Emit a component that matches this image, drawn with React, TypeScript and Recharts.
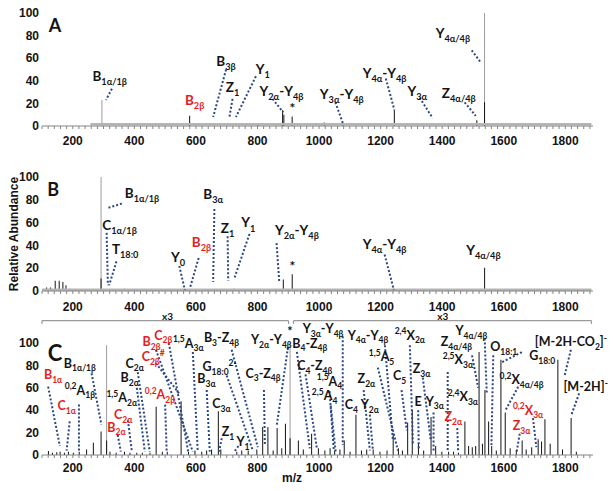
import React from 'react';
import {
  Bar,
  Cell,
  ComposedChart,
  ReferenceDot,
  ReferenceLine,
  XAxis,
  YAxis,
} from 'recharts';

// m/z axis
const MZ_DOMAIN: [number, number] = [100, 1890];
const MAJOR_TICKS = [200, 400, 600, 800, 1000, 1200, 1400, 1600, 1800];
const MINOR_TICKS: number[] = [];
for (let t = 100; t <= 1880; t += 20) MINOR_TICKS.push(t);
const Y_TICKS = [0, 20, 40, 60, 80, 100];

// peaks as [m/z, relative abundance]; "grey" = tall profile traces, "black" = centroid sticks
const A_GREY = [[295, 23], [1538, 100]];
const A_BLACK = [
  [580, 9], [802, 2], [882, 14], [886, 10], [913, 8.5], [1017, 3], [1078, 2],
  [1245, 14], [1513, 5], [1538, 21],
];
const A_NOISE: [number, number, number] = [257, 1885, 1.5];

const B_GREY = [[292, 100]];
const B_BLACK = [
  [115, 3], [128, 3], [143, 9], [156, 9], [168, 8], [178, 5], [191, 2], [251, 1.5],
  [276, 1.5], [292, 11], [368, 2], [472, 1.5], [561, 1], [723, 2], [884, 10],
  [913, 14.6], [1243, 2], [1538, 20.5],
];
const B_NOISE: [number, number, number] = [100, 1885, 1];

const C_GREY = [[309, 98], [905, 100]];
const C_BLACK = [
  [120, 3.5], [133, 2], [147, 2.5], [158, 3], [172, 2], [185, 3], [201, 2], [220, 3],
  [244, 5], [266, 11], [291, 21], [309, 13], [320, 3], [340, 2], [367, 3], [385, 2],
  [407, 2], [425, 2], [450, 2], [470, 43], [490, 3], [506, 3], [551, 48], [575, 3],
  [596, 4], [618, 3], [634, 4], [650, 5], [672, 39], [680, 5], [732, 3], [748, 4],
  [769, 4], [797, 5], [816, 25], [833, 25], [850, 4], [863, 24], [878, 6], [890, 28],
  [905, 15], [932, 13], [948, 5], [975, 19], [997, 6], [1018, 4], [1035, 6], [1050, 4],
  [1067, 5], [1081, 13], [1100, 3], [1119, 36], [1137, 4], [1154, 5], [1175, 5],
  [1197, 3], [1220, 4], [1240, 19], [1257, 6], [1270, 4], [1287, 29], [1302, 40],
  [1322, 10], [1339, 4], [1363, 34], [1378, 8], [1398, 3], [1420, 3], [1436, 3],
  [1452, 2], [1473, 30], [1485, 8], [1497, 7], [1508, 8], [1519, 92], [1530, 10],
  [1538, 58], [1550, 30], [1560, 8], [1575, 4], [1590, 85], [1604, 38], [1620, 6],
  [1640, 4], [1659, 13], [1672, 5], [1690, 7], [1711, 14], [1722, 12], [1733, 32],
  [1750, 10], [1775, 85], [1790, 5], [1818, 33], [1835, 3],
];

type Note = { t: string; x: number; y: number; l?: number[]; red?: boolean; size?: number };

const A_NOTES: Note[] = [
  { t: 'A', x: 142, y: 89, size: 18 },
  { t: 'B_{1α/1β}', x: 320, y: 44, l: [327, 33, 308, 23] },
  { t: 'B_{2β}', x: 596, y: 22.5, red: true },
  { t: 'B_{3β}', x: 698, y: 57.6, l: [698, 50, 656, 8] },
  { t: 'Z_{1}', x: 719, y: 34, l: [719, 24, 709, 8] },
  { t: 'Y_{1}', x: 817, y: 50, l: [795, 44, 730, 8] },
  { t: 'Y_{2α}-Y_{4β}', x: 878, y: 31, l: [849, 24, 884, 12] },
  { t: '*', x: 913, y: 16 },
  { t: 'Y_{3α}-Y_{4β}', x: 1074, y: 28, l: [1053, 21, 1078, 2] },
  { t: 'Y_{4α}-Y_{4β}', x: 1213, y: 47, l: [1217, 42, 1245, 14] },
  { t: 'Y_{3α}', x: 1319, y: 31, l: [1327, 25, 1369, 7] },
  { t: 'Z_{4α/4β}', x: 1454, y: 29, l: [1473, 21, 1509, 9] },
  { t: 'Y_{4α/4β}', x: 1435, y: 82, l: [1496, 67, 1526, 56] },
];

const B_NOTES: Note[] = [
  { t: 'B', x: 136, y: 89, size: 18 },
  { t: 'B_{1α/1β}', x: 425, y: 86, l: [316, 73, 362, 77] },
  { t: 'C_{1α/1β}', x: 352, y: 58, l: [310, 51, 314, 5] },
  { t: 'T_{18:0}', x: 370, y: 37, l: [342, 26, 318, 5] },
  { t: 'Y_{0}', x: 542, y: 30, l: [546, 22, 564, 1] },
  { t: 'B_{2β}', x: 618, y: 43, red: true, l: [609, 29, 580, 2] },
  { t: 'B_{3α}', x: 656, y: 85, l: [660, 72, 656, 8] },
  { t: 'Z_{1}', x: 703, y: 55, l: [703, 48, 705, 9] },
  { t: 'Y_{1}', x: 770, y: 60, l: [774, 50, 726, 12] },
  { t: 'Y_{2α}-Y_{4β}', x: 928, y: 53, l: [862, 42, 871, 7] },
  { t: '*', x: 913, y: 22 },
  { t: 'Y_{4α}-Y_{4β}', x: 1213, y: 41, l: [1213, 32, 1243, 1] },
  { t: 'Y_{4α/4β}', x: 1534, y: 36 },
];

const C_NOTES: Note[] = [
  { t: 'C', x: 142, y: 91, size: 22 },
  { t: 'B_{1α}', x: 136, y: 72, red: true, l: [120, 61, 158, 8] },
  { t: 'C_{1α}', x: 180, y: 44, red: true, l: [190, 30, 180, 4] },
  { t: 'B_{1α/1β}', x: 223, y: 82, l: [261, 73, 293, 27] },
  { t: '^{0,2}A_{1β}', x: 223, y: 58, l: [220, 45, 220, 3] },
  { t: '^{1,5}A_{2α}', x: 359, y: 51 },
  { t: 'C_{2α}', x: 364, y: 36, red: true, l: [379, 31, 392, 3] },
  { t: 'B_{2α}', x: 342, y: 25, red: true, l: [346, 18, 356, 3] },
  { t: 'B_{2α}', x: 385, y: 69, l: [408, 60, 434, 3] },
  { t: 'C_{2α}', x: 401, y: 82, l: [411, 74, 450, 3] },
  { t: '^{0,2}A_{2β}', x: 483, y: 54, red: true, l: [500, 45, 505, 3] },
  { t: 'B_{2β}', x: 456, y: 101, red: true, l: [470, 94, 590, 3] },
  { t: 'C_{2β}', x: 494, y: 107, red: true, l: [512, 100, 575, 3] },
  { t: 'C_{2β}^{#}', x: 461, y: 88, red: true, l: [470, 82, 548, 54] },
  { t: '^{1,5}A_{3α}', x: 575, y: 100, l: [590, 92, 606, 3] },
  { t: 'B_{3}-Z_{4β}', x: 683, y: 105, l: [716, 94, 801, 7] },
  { t: 'G_{18:0}^{2-}', x: 677, y: 79, l: [700, 71, 785, 4] },
  { t: 'B_{3α}', x: 634, y: 68.5, l: [635, 58, 645, 3] },
  { t: 'C_{3α}', x: 683, y: 46 },
  { t: 'Z_{1}', x: 704, y: 21, l: [684, 15, 675, 3] },
  { t: 'Y_{1}', x: 753, y: 12, l: [738, 8, 725, 3] },
  { t: 'C_{3}-Z_{4β}', x: 818, y: 73, l: [821, 58, 824, 9] },
  { t: 'Y_{2α}-Y_{4β}', x: 845, y: 103, l: [899, 96, 863, 27] },
  { t: '*', x: 905, y: 110 },
  { t: 'Y_{3α}-Y_{4β}', x: 1013, y: 113, l: [1077, 106, 1077, 9] },
  { t: 'B_{4}-Z_{4β}', x: 970, y: 100, l: [928, 92, 970, 6] },
  { t: 'C_{4}-Z_{4β}', x: 986, y: 80, l: [956, 72, 993, 6] },
  { t: '^{1,5}A_{4}', x: 1034, y: 66, l: [1034, 57, 1048, 4] },
  { t: '^{2,5}A_{4}', x: 1018, y: 53, l: [1038, 44, 1054, 3] },
  { t: 'C_{4}', x: 1105, y: 45 },
  { t: 'Y_{2α}', x: 1165, y: 45, l: [1165, 36, 1175, 4] },
  { t: 'Z_{2α}', x: 1154, y: 68.5, l: [1145, 58, 1165, 4] },
  { t: 'Y_{4α}-Y_{4β}', x: 1159, y: 107, l: [1214, 98, 1240, 13] },
  { t: '^{1,5}A_{5}', x: 1203, y: 88, l: [1191, 78, 1256, 4] },
  { t: 'C_{5}', x: 1262, y: 71, l: [1268, 58, 1285, 22] },
  { t: '^{2,4}X_{2α}', x: 1295, y: 107, l: [1295, 98, 1305, 9] },
  { t: 'Z_{3α}', x: 1333, y: 77, l: [1337, 69, 1363, 13] },
  { t: 'E', x: 1322, y: 48, l: [1322, 40, 1324, 6] },
  { t: 'Y_{3α}', x: 1376, y: 48, l: [1372, 38, 1372, 4] },
  { t: '^{2,5}X_{3α}', x: 1451, y: 85, l: [1418, 74, 1418, 4] },
  { t: '^{2,4}X_{3α}', x: 1467, y: 52 },
  { t: 'Z_{2α}', x: 1436, y: 34, red: true, l: [1449, 24, 1452, 3] },
  { t: 'Z_{4α/4β}', x: 1446, y: 101, l: [1497, 89, 1517, 60] },
  { t: 'Y_{4α/4β}', x: 1495, y: 111, l: [1538, 104, 1545, 54] },
  { t: 'O_{18:1}', x: 1600, y: 97, l: [1566, 89, 1560, 9] },
  { t: 'G_{18:0}', x: 1725, y: 89, l: [1595, 83, 1660, 92] },
  { t: '^{0,2}X_{4α/4β}', x: 1658, y: 67, l: [1647, 61, 1604, 39] },
  { t: '^{0,2}X_{3α}', x: 1679, y: 40, red: true, l: [1695, 33, 1706, 7] },
  { t: 'Z_{3α}', x: 1658, y: 26, red: true, l: [1652, 19, 1642, 3] },
  { t: '[M-2H-CO_{2}]^{-}', x: 1818, y: 101, l: [1818, 94, 1797, 70] },
  { t: '[M-2H]^{-}', x: 1866, y: 61, l: [1845, 55, 1820, 36] },
  { t: 'x3', x: 508, y: 124, size: 10 },
  { t: 'x3', x: 1402, y: 124, size: 10 },
];

// the "x3" brackets above panel C, in m/z
const ZOOM_RANGES = [[100, 901], [917, 1885]];
const BRACKET_Y = 120;

const GREY = '#9b9b9b';
const BLACK = '#141414';
const RED = '#e31e24';
const NAVY = '#2b4784';
const AXIS = '#858585';
const TICK_FONT = '"Liberation Sans", Arial, sans-serif';
const LABEL_FONT = 'Lato, "Noto Sans", sans-serif';

function RichText({ x, y, text, fill, size }: { x: number; y: number; text: string; fill: string; size: number }) {
  const segs = text.match(/\^\{[^}]*\}|_\{[^}]*\}|[^^_]+/g) || [];
  let cur = 0;
  return (
    <text x={x} y={y + size * 0.36} textAnchor="middle" fill={fill} fontSize={size} fontWeight="bold" fontFamily={LABEL_FONT}>
      {segs.map((s, i) => {
        let kind = 'n';
        let body = s;
        if (s.startsWith('^{')) { kind = 'sup'; body = s.slice(2, -1); }
        else if (s.startsWith('_{')) { kind = 'sub'; body = s.slice(2, -1); }
        const target = kind === 'sup' ? -0.42 * size : kind === 'sub' ? 0.3 * size : 0;
        const dy = target - cur;
        cur = target;
        return (
          <tspan key={i} dy={dy} fontSize={kind === 'n' ? size : size * 0.68}>
            {body}
          </tspan>
        );
      })}
    </text>
  );
}

function toRows(grey: number[][], black: number[][]) {
  return [
    ...grey.map(([mz, ab]) => ({ mz, ab, tone: 'g' })),
    ...black.map(([mz, ab]) => ({ mz, ab, tone: 'k' })),
  ];
}

function Panel({
  top, height, mt, mb, rows, notes, noise, tickGap, extra, yLabel, labelSize = 13,
}: {
  top: number; height: number; mt: number; mb: number; rows: any[]; notes: Note[];
  noise?: [number, number, number]; tickGap: number; extra?: React.ReactNode; yLabel?: boolean; labelSize?: number;
}) {
  return (
    <div style={{ position: 'absolute', left: 0, top }}>
      <ComposedChart width={615} height={height} data={rows} margin={{ top: mt, right: 22, bottom: mb, left: 0 }}>
        <XAxis
          type="number"
          dataKey="mz"
          domain={MZ_DOMAIN}
          allowDataOverflow
          ticks={MINOR_TICKS}
          interval={0}
          tickFormatter={(v: number) => (MAJOR_TICKS.includes(v) ? String(v) : '')}
          stroke={AXIS}
          tickSize={3}
          tickMargin={tickGap}
          height={20}
          tick={{ fontSize: 12, fontWeight: 'bold', fill: BLACK, fontFamily: TICK_FONT }}
        />
        <YAxis
          type="number"
          domain={[0, 100]}
          ticks={Y_TICKS}
          width={42}
          axisLine={false}
          tickLine={false}
          tickSize={0}
          tickMargin={3}
          tick={{ fontSize: 12, fontWeight: 'bold', fill: BLACK, fontFamily: TICK_FONT }}
          label={
            yLabel
              ? {
                  content: (p: any) => {
                    const vb = p.viewBox || {};
                    const cx = (vb.x || 0) + 15;
                    const cy = (vb.y || 0) + (vb.height || 0) / 2;
                    return (
                      <text x={cx} y={cy} transform={`rotate(-90 ${cx} ${cy})`} textAnchor="middle" dominantBaseline="middle"
                        fontSize={12} fontWeight="bold" fontFamily={TICK_FONT} fill={BLACK}>
                        Relative Abundance
                      </text>
                    );
                  },
                }
              : undefined
          }
        />
        {noise && (
          <ReferenceLine
            segment={[{ x: noise[0], y: noise[2] }, { x: noise[1], y: noise[2] }]}
            stroke="#b5b5b5"
            strokeWidth={2.5}
            ifOverflow="visible"
          />
        )}
        <Bar dataKey="ab" barSize={1} isAnimationActive={false}>
          {rows.map((r, i) => (
            <Cell key={i} fill={r.tone === 'g' ? GREY : BLACK} />
          ))}
        </Bar>
        {extra}
        {notes.filter((n) => n.l).map((n, i) => (
          <ReferenceLine
            key={'l' + i}
            segment={[{ x: n.l![0], y: n.l![1] }, { x: n.l![2], y: n.l![3] }]}
            stroke={NAVY}
            strokeWidth={2}
            strokeDasharray="2 2"
            ifOverflow="visible"
          />
        ))}
        {notes.map((n, i) => (
          <ReferenceDot
            key={'t' + i}
            x={n.x}
            y={n.y}
            r={0}
            ifOverflow="visible"
            shape={(p: any) => (
              <RichText x={p.cx} y={p.cy} text={n.t} fill={n.red ? RED : BLACK} size={n.size || labelSize} />
            )}
          />
        ))}
      </ComposedChart>
    </div>
  );
}

export default function App() {
  const brackets = ZOOM_RANGES.flatMap(([a, b], i) => [
    <ReferenceLine key={'b' + i} segment={[{ x: a, y: BRACKET_Y }, { x: b, y: BRACKET_Y }]} stroke="#9a9a9a" strokeWidth={1.2} ifOverflow="visible" />,
    <ReferenceLine key={'bl' + i} segment={[{ x: a, y: BRACKET_Y }, { x: a, y: BRACKET_Y - 3 }]} stroke="#9a9a9a" strokeWidth={1.2} ifOverflow="visible" />,
    <ReferenceLine key={'br' + i} segment={[{ x: b, y: BRACKET_Y }, { x: b, y: BRACKET_Y - 3 }]} stroke="#9a9a9a" strokeWidth={1.2} ifOverflow="visible" />,
  ]);
  return (
    <div style={{ position: 'absolute', left: 0, top: 0, width: 615, height: 491, background: '#fff', overflow: 'hidden' }}>
      <Panel top={0} height={160} mt={13} mb={14} rows={toRows(A_GREY, A_BLACK)} notes={A_NOTES} noise={A_NOISE} tickGap={7} labelSize={13.5} />
      <Panel top={165} height={160} mt={12} mb={14} rows={toRows(B_GREY, B_BLACK)} notes={B_NOTES} noise={B_NOISE} tickGap={8} yLabel labelSize={13.5} />
      <Panel top={310} height={181} mt={33} mb={16} rows={toRows(C_GREY, C_BLACK)} notes={C_NOTES} tickGap={5} extra={brackets} labelSize={12.5} />
      <div
        style={{
          position: 'absolute', left: 272, top: 471, width: 40, textAlign: 'center',
          fontFamily: TICK_FONT, fontWeight: 'bold', fontSize: 12, color: BLACK,
        }}
      >
        m/z
      </div>
    </div>
  );
}
